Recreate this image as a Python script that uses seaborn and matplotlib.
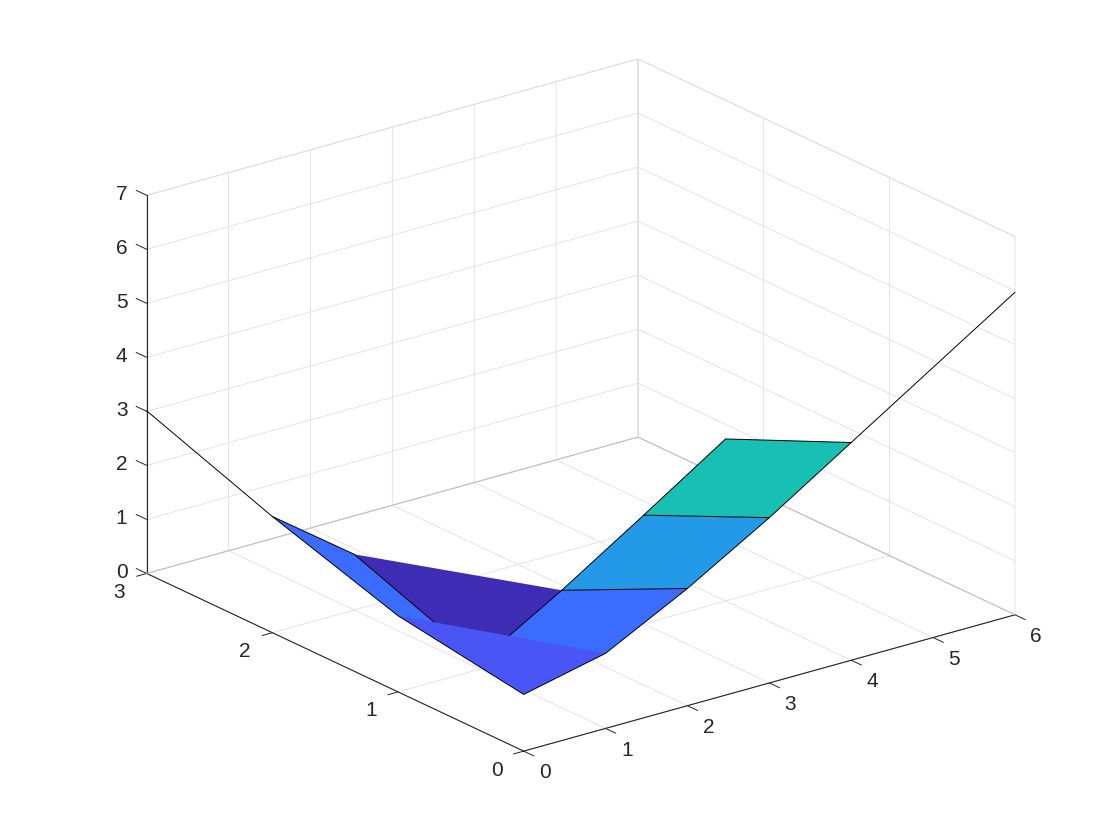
# Surface valley, MATLAB style 3-D view
import numpy as np
import matplotlib
matplotlib.use('Agg')
import matplotlib.pyplot as plt
import seaborn as sns
from mpl_toolkits.mplot3d.art3d import Poly3DCollection

x_vals = [0, 1, 2, 3, 4, 5, 6]
y_vals = [0, 1, 2, 3]
nan = np.nan
z_y0 = [1.05, 1.39, 2.17, 3.06, 4.03, 5.0, 5.97]
z_y1 = [1.41, 0.15, 1.04, 2.01, 3.0, nan, nan]
z_y2 = [2.15, 1.03, nan, nan, nan, nan, nan]
z_y3 = [3.01, nan, nan, nan, nan, nan, nan]
z_grid = np.array([z_y0, z_y1, z_y2, z_y3])

x_ticks = [0, 1, 2, 3, 4, 5, 6]
y_ticks = [0, 1, 2, 3]
z_ticks = [0, 1, 2, 3, 4, 5, 6, 7]

# patches as (ix, iy) grid corners, back to front
back_cells = [[(0, 2), (1, 2), (1, 1), (0, 1)],
              [(1, 2), (2, 1), (1, 1)],
              [(1, 0), (2, 0), (2, 1), (1, 1)],
              [(2, 0), (3, 0), (3, 1), (2, 1)],
              [(3, 0), (4, 0), (4, 1), (3, 1)]]
back_colors = ['#3a6cff', '#3f2cb4', '#3a6cff', '#2499e8', '#18bfb3']
front_cell = [(0, 0), (1, 0), (0, 1)]
front_color = '#4a55f6'

# black mesh edges, those under the front patch come first
hidden_edges = [[(1, 2), (1, 1)], [(2, 1), (1, 1)]]
mesh_edges = [[(0, 3), (0, 2), (0, 1), (0, 0), (1, 0), (2, 0), (3, 0), (4, 0), (5, 0), (6, 0)],
              [(0, 2), (1, 2)],
              [(2, 1), (3, 1), (4, 1), (4, 0)],
              [(2, 1), (2, 0)],
              [(3, 1), (3, 0)]]


def corner(ix, iy):
    return (x_vals[ix], y_vals[iy], z_grid[iy, ix])


sns.set_theme(style='white')
plt.rcParams['font.family'] = ['Liberation Sans', 'DejaVu Sans']

fig = plt.figure(figsize=(11.2, 8.4), dpi=100)
ax = fig.add_axes([0.12286, 0.09929, 0.775, 0.815], projection='3d', computed_zorder=False)
ax.set_proj_type('ortho')
ax.view_init(elev=21.2, azim=-127.5)
ax.set_box_aspect((1, 1, 0.655), zoom=1.3686)
ax.set_xlim(0, 6, view_margin=0)
ax.set_ylim(0, 3, view_margin=0)
ax.set_zlim(0, 7, view_margin=0)
ax.set_xticks(x_ticks)
ax.set_yticks(y_ticks)
ax.set_zticks(z_ticks)
ax.tick_params(labelsize=15, colors='#262626')
ax.tick_params(axis='x', pad=6.4)
ax.tick_params(axis='y', pad=6.2)
ax.tick_params(axis='z', pad=-0.6)

for axis in (ax.xaxis, ax.yaxis, ax.zaxis):
    axis.set_pane_color((1, 1, 1, 1))
    axis.pane.set_edgecolor('#d4d4d4')
    axis.pane.set_linewidth(0.6)
    axis.line.set_color('#262626')
    axis.line.set_linewidth(0.8)
    axis._axinfo['grid'].update(color='#e0e0e0', linewidth=0.6)
    axis._axinfo['tick']['linewidth'] = {True: 0.7, False: 0.7}
    axis._axinfo['tick']['inward_factor'] = 0.0

# tick lengths and directions like the MATLAB axes, z ticks point along y
ax.xaxis._axinfo['tick']['outward_factor'] = -0.34
ax.yaxis._axinfo['tick']['outward_factor'] = -0.26
ax.zaxis._axinfo['tick']['outward_factor'] = 0.35
ax.zaxis._get_tickdir = lambda pos: 1

for axis in (ax.xaxis, ax.yaxis):
    for lab in axis.get_ticklabels():
        lab.set_ha('center')
        lab.set_va('bottom')
for lab in ax.zaxis.get_ticklabels():
    lab.set_ha('center')
    lab.set_va('center')

# floor edges of the box are a bit darker than the grid
ax.plot([x_ticks[0], x_ticks[-1], x_ticks[-1]], [y_ticks[-1], y_ticks[-1], y_ticks[0]],
        [z_ticks[0]] * 3, color='#c0c0c0', lw=0.7, zorder=0.5, clip_on=False)

z = 1
for cell, color in zip(back_cells, back_colors):
    ax.add_collection3d(Poly3DCollection([[corner(*c) for c in cell]], facecolors=color,
                                         edgecolors='none', shade=False, zorder=z))
    z += 1
for edge in hidden_edges:
    pts = np.array([corner(*c) for c in edge])
    ax.plot(pts[:, 0], pts[:, 1], pts[:, 2], color='black', lw=0.7, zorder=z, clip_on=False)
z += 1
ax.add_collection3d(Poly3DCollection([[corner(*c) for c in front_cell]], facecolors=front_color,
                                     edgecolors='none', shade=False, zorder=z))
z += 1
for edge in mesh_edges:
    pts = np.array([corner(*c) for c in edge])
    ax.plot(pts[:, 0], pts[:, 1], pts[:, 2], color='black', lw=0.7, zorder=z, clip_on=False)

fig.savefig('out.png', dpi=100, facecolor='white')
